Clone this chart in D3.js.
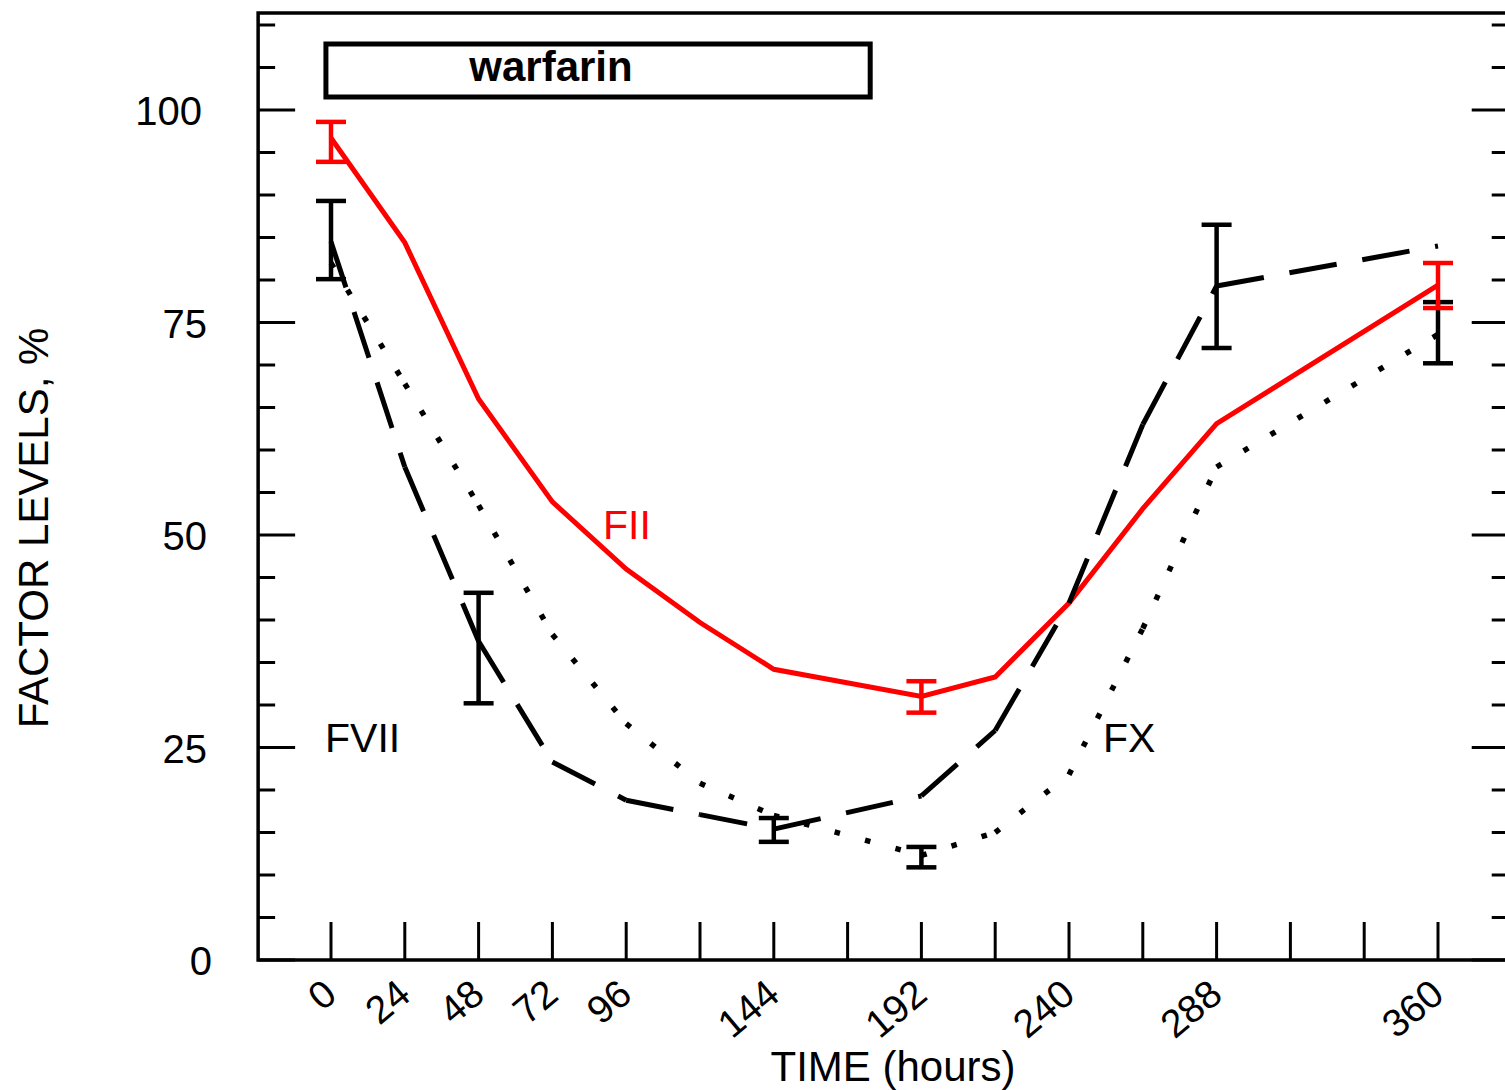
<!DOCTYPE html>
<html><head><meta charset="utf-8">
<script src="https://cdn.jsdelivr.net/npm/d3@7"></script>
<style>body{margin:0;background:#fff}svg{display:block}text{font-family:"Liberation Sans",Arial,sans-serif}</style>
</head><body><svg id="c" width="1505" height="1090"></svg>
<script>
const hours = [0,24,48,72,96,120,144,192,216,240,264,288,360];
const fII  = [96.7,84.4,66.0,53.9,46.0,39.7,34.2,31.0,33.3,42.0,53.1,63.1,79.4];
const fVII = [84.5,58.0,37.5,23.3,18.8,17.1,15.4,19.3,27.0,42.0,63.0,79.3,84.0];
const fX   = [82.0,67.8,53.5,38.3,27.8,20.8,17.0,12.3,15.0,21.8,39.0,58.0,73.6];
const errFIIHours = [0,192,360], errFIILo = [93.9,29.1,76.7], errFIIHi = [98.6,32.8,82.0];
const errFVIIHours = [0,48,144,288], errFVIILo = [80.1,30.2,13.9,72.0], errFVIIHi = [89.3,43.2,16.7,86.5];
const errFXHours = [192,360], errFXLo = [10.9,70.2], errFXHi = [13.3,77.4];
const xTickLabels = [0,24,48,72,96,144,192,240,288,360];
const xTickMarks = d3.range(0,361,24);
const yTickLabels = [0,25,50,75,100];
const yTickMarks = d3.range(0,111,5);
const warfarinStart = -1, warfarinEnd = 176;

const svg = d3.select('#c');
const x = d3.scaleLinear().domain([0,360]).range([331,1438]);
const y = d3.scaleLinear().domain([0,100]).range([960,110]);
const L = x(-23.7), R = x(383), T = y(111.4), B = y(0);

// frame
svg.append('path').attr('d',`M${R},${T}H${L}V${B}H${R}`).attr('fill','none').attr('stroke','#000').attr('stroke-width',3.5);

// y ticks inward, both sides
yTickMarks.forEach(v=>{
  const len = v%25===0 ? 37 : 17;
  svg.append('line').attr('x1',L).attr('x2',L+len).attr('y1',y(v)).attr('y2',y(v)).attr('stroke','#000').attr('stroke-width',3);
  svg.append('line').attr('x1',R).attr('x2',R-len).attr('y1',y(v)).attr('y2',y(v)).attr('stroke','#000').attr('stroke-width',3);
});
svg.selectAll('.yl').data(yTickLabels).enter().append('text')
  .attr('x',d=>d===0?212:(d===100?202:207)).attr('y',d=>y(d)+15).attr('text-anchor','end').attr('font-size',40).text(d=>d);

// x ticks inward
svg.selectAll('.xt').data(xTickMarks).enter().append('line')
  .attr('x1',d=>x(d)).attr('x2',d=>x(d)).attr('y1',B).attr('y2',B-38).attr('stroke','#000').attr('stroke-width',3);
svg.selectAll('.xl').data(xTickLabels).enter().append('text')
  .attr('transform',d=>`translate(${x(d)+8},${B+38}) rotate(-40)`).attr('text-anchor','end').attr('font-size',39).text(d=>d);

// axis titles
svg.append('text').attr('x',893).attr('y',1081).attr('text-anchor','middle').attr('font-size',42).text('TIME (hours)');
svg.append('text').attr('transform','translate(48,528) rotate(-90)').attr('text-anchor','middle').attr('font-size',42).text('FACTOR LEVELS, %');

// warfarin box
svg.append('rect').attr('x',x(warfarinStart)-2).attr('y',44).attr('width',x(warfarinEnd)-x(warfarinStart)).attr('height',53)
  .attr('fill','none').attr('stroke','#000').attr('stroke-width',5);
svg.append('text').attr('x',551).attr('y',81).attr('text-anchor','middle').attr('font-size',42).attr('font-weight','bold').text('warfarin');

// series: draw each segment separately (pattern restarts at each vertex)
function series(vals, color, width, dash){
  const pts = hours.map((h,i)=>[x(h),y(vals[i])]);
  for(let i=0;i<pts.length-1;i++){
    svg.append('path').attr('d',d3.line()([pts[i],pts[i+1]])).attr('fill','none')
      .attr('stroke',color).attr('stroke-width',width).attr('stroke-dasharray',dash||null).attr('stroke-linejoin','round');
  }
}
// FII solid: single path
svg.append('path').attr('d',d3.line().x((d,i)=>x(hours[i])).y(d=>y(d))(fII)).attr('fill','none').attr('stroke','#ff0000').attr('stroke-width',5).attr('stroke-linejoin','miter');
series(fX,'#000',5.5,'5.5,26');
series(fVII,'#000',5,'48,26');

function errbars(hs, lo, hi, color){
  hs.forEach((h,i)=>{
    const cx = x(h);
    svg.append('line').attr('x1',cx).attr('x2',cx).attr('y1',y(lo[i])).attr('y2',y(hi[i])).attr('stroke',color).attr('stroke-width',4.5);
    [lo[i],hi[i]].forEach(v=>svg.append('line').attr('x1',cx-15).attr('x2',cx+15).attr('y1',y(v)).attr('y2',y(v)).attr('stroke',color).attr('stroke-width',4.5));
  });
}
errbars(errFVIIHours, errFVIILo, errFVIIHi, '#000');
errbars(errFXHours, errFXLo, errFXHi, '#000');
errbars(errFIIHours, errFIILo, errFIIHi, '#ff0000');

// series labels
svg.append('text').attr('x',603).attr('y',539).attr('font-size',41).attr('fill','#ff0000').text('FII');
svg.append('text').attr('x',325).attr('y',752).attr('font-size',41).attr('fill','#000').text('FVII');
svg.append('text').attr('x',1103).attr('y',752).attr('font-size',41).attr('fill','#000').text('FX');
</script></body></html>
